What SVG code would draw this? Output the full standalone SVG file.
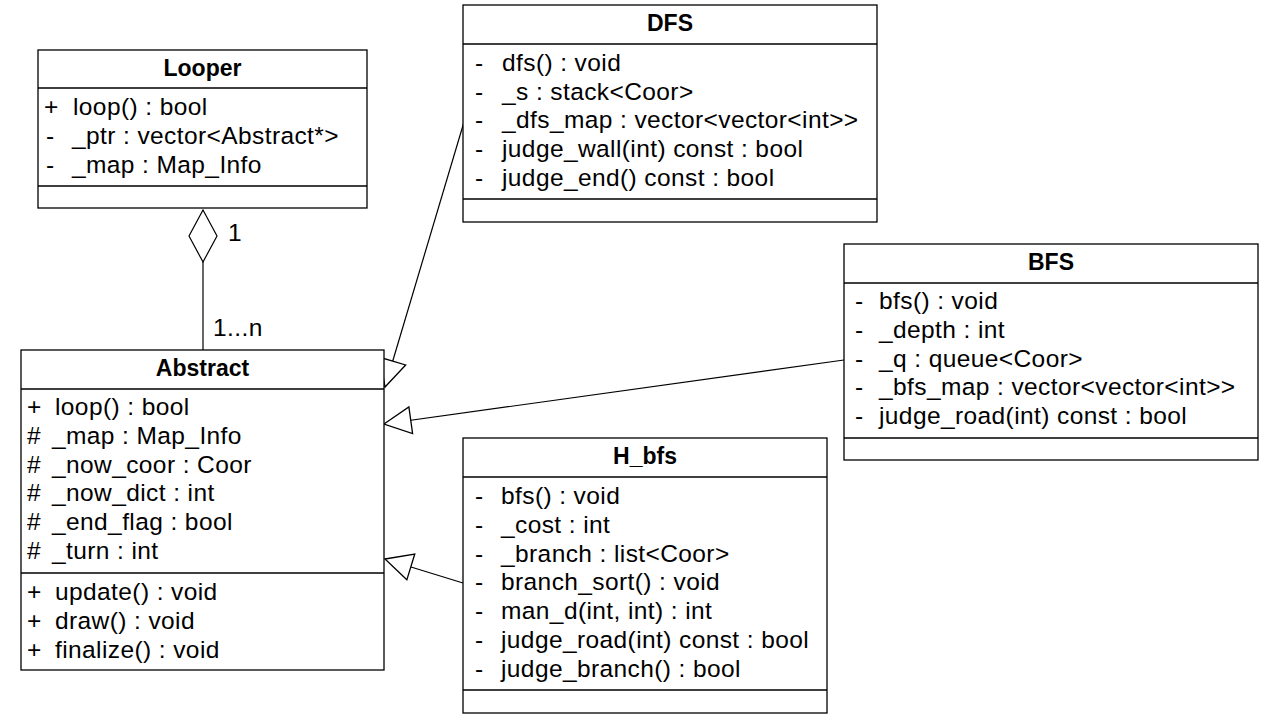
<svg xmlns="http://www.w3.org/2000/svg" width="1280" height="720" viewBox="0 0 1280 720">
<defs>
<style>
.box{fill:#fff;stroke:#000;stroke-width:1.3}
.dv{stroke:#000;stroke-width:1.3;fill:none}
.t{font-family:"Liberation Sans",Arial,sans-serif;font-size:24.5px;letter-spacing:0.4px;fill:#000}
.ti{font-family:"Liberation Sans",Arial,sans-serif;font-size:23px;font-weight:bold;text-anchor:middle;fill:#000}
.conn{stroke:#000;stroke-width:1.2;fill:none}
</style>
<marker id="gen" markerUnits="userSpaceOnUse" markerWidth="32" markerHeight="32" viewBox="-2 -16 32 32" refX="0" refY="0" orient="auto">
<path d="M0,0 L27,-13.5 L27,13.5 Z" fill="#fff" stroke="#000" stroke-width="1.3"/>
</marker>
<marker id="agg" markerUnits="userSpaceOnUse" markerWidth="56" markerHeight="32" viewBox="-2 -16 56 32" refX="0" refY="0" orient="auto">
<path d="M0,0 L26,-14 L52,0 L26,14 Z" fill="#fff" stroke="#000" stroke-width="1.2"/>
</marker>
</defs>
<rect width="1280" height="720" fill="#fff"/>

<g id="connectors">
<path class="conn" d="M203,210 L203,350" marker-start="url(#agg)"/>
<path class="conn" d="M385,387 L464,122" marker-start="url(#gen)"/>
<path class="conn" d="M384,424 L844,360" marker-start="url(#gen)"/>
<path class="conn" d="M385,559 L463,583" marker-start="url(#gen)"/>
<text class="t" x="228" y="241">1</text>
<text class="t" x="213" y="336">1...n</text>
</g>

<g id="Looper">
<rect class="box" x="38" y="50" width="329" height="158"/>
<path class="dv" d="M38,88 H367 M38,186 H367"/>
<text class="ti" x="202.5" y="76">Looper</text>
<text class="t" y="115"><tspan x="44">+</tspan><tspan x="73">loop() : bool</tspan></text>
<text class="t" y="144"><tspan x="46">-</tspan><tspan x="72">_ptr : vector&lt;Abstract*&gt;</tspan></text>
<text class="t" y="173"><tspan x="46">-</tspan><tspan x="72">_map : Map_Info</tspan></text>
</g>

<g id="DFS">
<rect class="box" x="463" y="5" width="414" height="217"/>
<path class="dv" d="M463,44 H877 M463,199 H877"/>
<text class="ti" x="670" y="31">DFS</text>
<text class="t" y="71"><tspan x="475">-</tspan><tspan x="502">dfs() : void</tspan></text>
<text class="t" y="100"><tspan x="475">-</tspan><tspan x="502">_s : stack&lt;Coor&gt;</tspan></text>
<text class="t" y="128"><tspan x="475">-</tspan><tspan x="502">_dfs_map : vector&lt;vector&lt;int&gt;&gt;</tspan></text>
<text class="t" y="157"><tspan x="475">-</tspan><tspan x="502">judge_wall(int) const : bool</tspan></text>
<text class="t" y="186"><tspan x="475">-</tspan><tspan x="502">judge_end() const : bool</tspan></text>
</g>

<g id="BFS">
<rect class="box" x="844" y="244" width="414" height="216"/>
<path class="dv" d="M844,283 H1258 M844,438 H1258"/>
<text class="ti" x="1051" y="270">BFS</text>
<text class="t" y="309"><tspan x="855">-</tspan><tspan x="879">bfs() : void</tspan></text>
<text class="t" y="338"><tspan x="855">-</tspan><tspan x="879">_depth : int</tspan></text>
<text class="t" y="367"><tspan x="855">-</tspan><tspan x="879">_q : queue&lt;Coor&gt;</tspan></text>
<text class="t" y="395"><tspan x="855">-</tspan><tspan x="879">_bfs_map : vector&lt;vector&lt;int&gt;&gt;</tspan></text>
<text class="t" y="424"><tspan x="855">-</tspan><tspan x="879">judge_road(int) const : bool</tspan></text>
</g>

<g id="Abstract">
<rect class="box" x="21" y="350" width="363" height="320"/>
<path class="dv" d="M21,389 H384 M21,573 H384"/>
<text class="ti" x="202.5" y="376">Abstract</text>
<text class="t" y="415"><tspan x="27">+</tspan><tspan x="55">loop() : bool</tspan></text>
<text class="t" y="444"><tspan x="27">#</tspan><tspan x="52">_map : Map_Info</tspan></text>
<text class="t" y="473"><tspan x="27">#</tspan><tspan x="52">_now_coor : Coor</tspan></text>
<text class="t" y="501"><tspan x="27">#</tspan><tspan x="52">_now_dict : int</tspan></text>
<text class="t" y="530"><tspan x="27">#</tspan><tspan x="52">_end_flag : bool</tspan></text>
<text class="t" y="559"><tspan x="27">#</tspan><tspan x="52">_turn : int</tspan></text>
<text class="t" y="600"><tspan x="27">+</tspan><tspan x="55">update() : void</tspan></text>
<text class="t" y="629"><tspan x="27">+</tspan><tspan x="55">draw() : void</tspan></text>
<text class="t" y="658"><tspan x="27">+</tspan><tspan x="55">finalize() : void</tspan></text>
</g>

<g id="H_bfs">
<rect class="box" x="463" y="438" width="364" height="275"/>
<path class="dv" d="M463,477 H827 M463,690 H827"/>
<text class="ti" x="645" y="464">H_bfs</text>
<text class="t" y="504"><tspan x="475">-</tspan><tspan x="501">bfs() : void</tspan></text>
<text class="t" y="533"><tspan x="475">-</tspan><tspan x="501">_cost : int</tspan></text>
<text class="t" y="562"><tspan x="475">-</tspan><tspan x="501">_branch : list&lt;Coor&gt;</tspan></text>
<text class="t" y="590"><tspan x="475">-</tspan><tspan x="501">branch_sort() : void</tspan></text>
<text class="t" y="619"><tspan x="475">-</tspan><tspan x="501">man_d(int, int) : int</tspan></text>
<text class="t" y="648"><tspan x="475">-</tspan><tspan x="501">judge_road(int) const : bool</tspan></text>
<text class="t" y="677"><tspan x="475">-</tspan><tspan x="501">judge_branch() : bool</tspan></text>
</g>
</svg>
